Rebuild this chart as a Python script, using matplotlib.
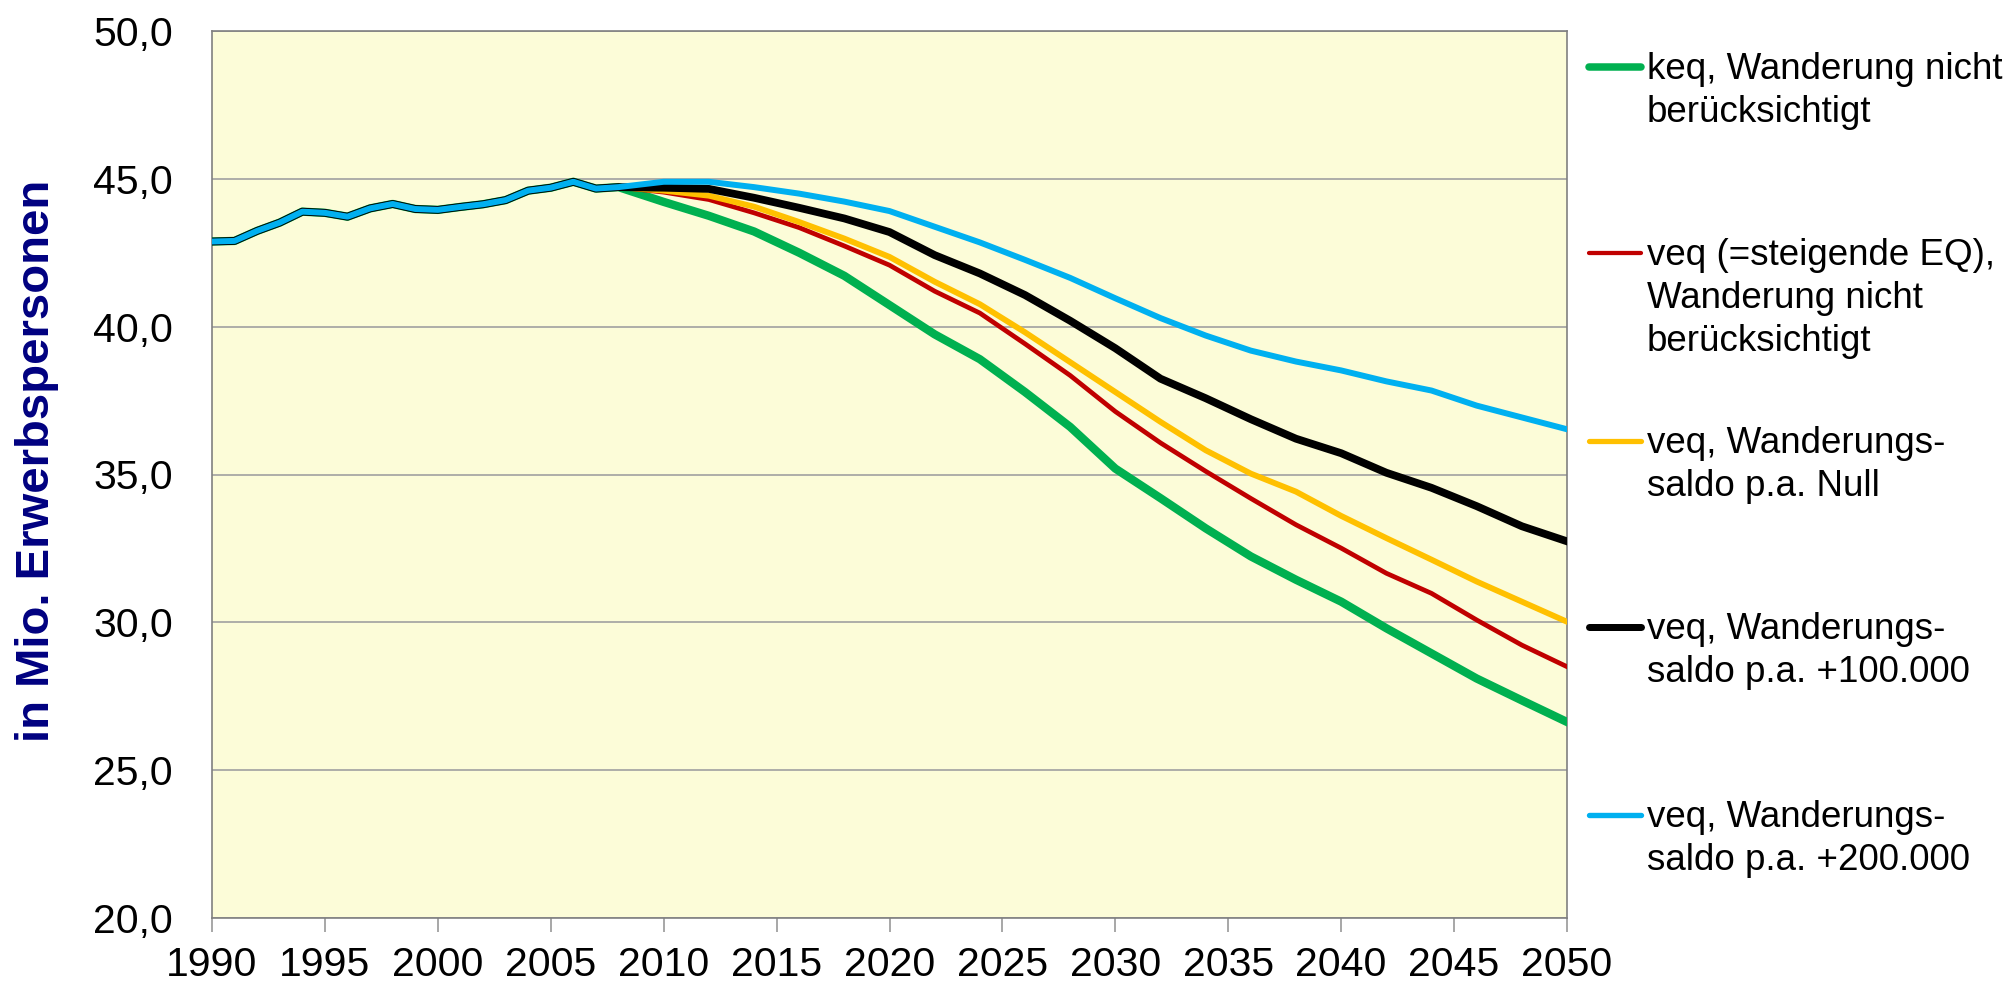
"""Erwerbspersonen in Deutschland 1990-2050, Szenarien nach Wanderung."""

import matplotlib
matplotlib.use("Agg")
import matplotlib.pyplot as plt
from matplotlib.lines import Line2D
from matplotlib.ticker import FuncFormatter, MultipleLocator

plt.rcParams["font.family"] = ["Liberation Sans", "DejaVu Sans"]

# Historie (gemeinsam fuer alle Szenarien)
hist_years = list(range(1990, 2008))
hist_vals = [42.88, 42.90, 43.24, 43.52, 43.89, 43.85, 43.72, 44.00, 44.15,
             43.98, 43.95, 44.05, 44.14, 44.28, 44.60, 44.70, 44.90, 44.67]

# Projektionen ab 2008 (alle 2 Jahre)
proj_years = list(range(2008, 2051, 2))
keq_ohne = [44.72, 44.22, 43.75, 43.22, 42.50, 41.72, 40.73, 39.74, 38.90, 37.79, 36.61,
            35.20, 34.20, 33.18, 32.23, 31.44, 30.70, 29.80, 28.95, 28.10, 27.36, 26.63]
veq_ohne = [44.72, 44.55, 44.30, 43.85, 43.35, 42.73, 42.08, 41.20, 40.46, 39.42, 38.35,
            37.13, 36.07, 35.11, 34.19, 33.30, 32.51, 31.66, 30.98, 30.08, 29.23, 28.50]
veq_null = [44.72, 44.60, 44.43, 44.06, 43.54, 42.98, 42.36, 41.52, 40.76, 39.81, 38.80,
            37.79, 36.78, 35.82, 35.03, 34.42, 33.60, 32.85, 32.12, 31.38, 30.70, 30.02]
veq_100 = [44.72, 44.70, 44.66, 44.36, 44.02, 43.66, 43.20, 42.42, 41.80, 41.07, 40.20,
           39.27, 38.24, 37.58, 36.87, 36.21, 35.72, 35.06, 34.55, 33.93, 33.25, 32.74]
veq_200 = [44.72, 44.90, 44.90, 44.72, 44.50, 44.23, 43.91, 43.38, 42.85, 42.26, 41.65,
           40.96, 40.29, 39.70, 39.19, 38.82, 38.52, 38.15, 37.84, 37.33, 36.93, 36.53]

labels = [
    "keq, Wanderung nicht\nberücksichtigt",
    "veq (=steigende EQ),\nWanderung nicht\nberücksichtigt",
    "veq, Wanderungs-\nsaldo p.a. Null",
    "veq, Wanderungs-\nsaldo p.a. +100.000",
    "veq, Wanderungs-\nsaldo p.a. +200.000",
]
series = [keq_ohne, veq_ohne, veq_null, veq_100, veq_200]
colors = ["#00B050", "#C00000", "#FFC000", "#000000", "#00B0F0"]
widths = [6.0, 3.4, 4.2, 5.6, 4.3]

W, H = 2014, 988
fig = plt.figure(figsize=(W / 100, H / 100), dpi=100)
ax = fig.add_axes([212 / W, 1 - 918 / H, (1567 - 212) / W, (918 - 31) / H])
ax.set_facecolor("#FCFCD8")

for vals, c, lw in zip(series, colors, widths):
    ax.plot(hist_years + proj_years, hist_vals + vals, color=c, lw=lw,
            solid_joinstyle="round", zorder=3)

ax.set_xlim(1990, 2050)
ax.set_ylim(20, 50)
ax.xaxis.set_major_locator(MultipleLocator(5))
ax.yaxis.set_major_locator(MultipleLocator(5))
ax.yaxis.set_major_formatter(FuncFormatter(lambda v, p: f"{v:.1f}".replace(".", ",")))
ax.grid(axis="y", color="#A0A0A0", lw=1.2, zorder=1)
ax.tick_params(axis="x", length=10, width=1.1, color="#909090", pad=10, labelsize=29.5)
ax.tick_params(axis="y", length=0, pad=28, labelsize=29.5)
for s in ax.spines.values():
    s.set_color("#808080")
    s.set_linewidth(1.2)

fig.text(37 / W, 1 - 461 / H, "in Mio. Erwerbspersonen", rotation=90,
         ha="center", va="center", fontsize=34, fontweight="bold", color="#000080",
         family=["Liberation Sans Narrow", "Liberation Sans", "DejaVu Sans"])

# Legende rechts neben dem Diagramm
handle_y = [67, 253, 441, 627, 815]
for y, lab, c, lw in zip(handle_y, labels, colors, widths):
    fig.add_artist(Line2D([1589 / W, 1641 / W], [1 - y / H, 1 - y / H], color=c,
                          lw=lw * 0.9, solid_capstyle="round"))
    fig.text(1647 / W, 1 - (y - 15) / H, lab, ha="left", va="top",
             fontsize=26.5, linespacing=1.3)

fig.savefig("out.png", dpi=100)
